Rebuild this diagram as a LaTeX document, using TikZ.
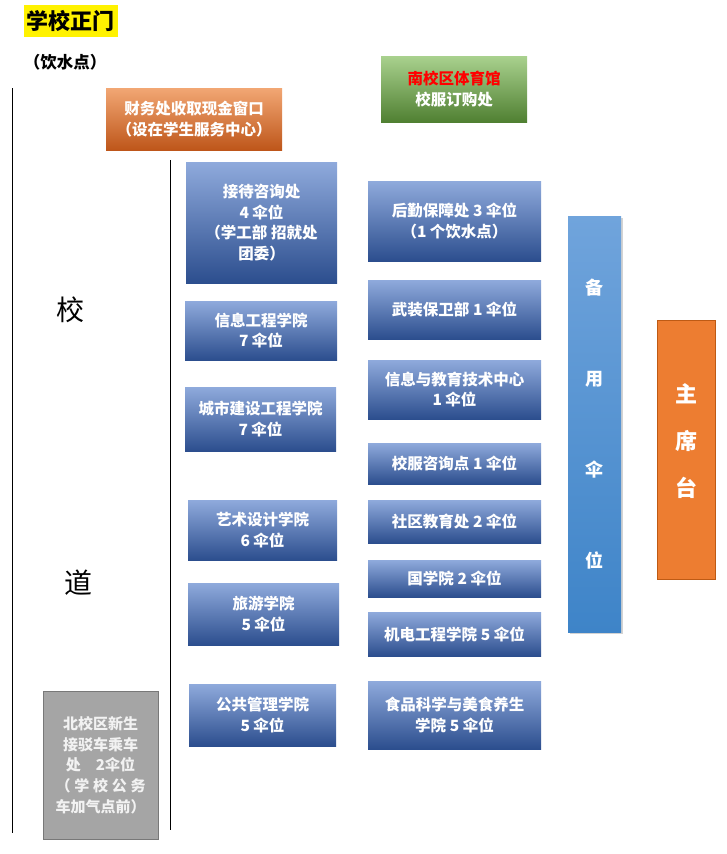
\documentclass[tikz,border=0pt]{standalone}
\usepackage{fontspec}
\setmainfont{Noto Sans CJK SC}
\usetikzlibrary{positioning, shadows}

\definecolor{bluetop}{RGB}{143,170,220}
\definecolor{bluemid}{RGB}{74,115,196}
\definecolor{bluebot}{RGB}{44,78,142}
\definecolor{orgtop}{RGB}{242,167,116}
\definecolor{orgbot}{RGB}{190,86,26}
\definecolor{grntop}{RGB}{169,209,142}
\definecolor{grnbot}{RGB}{80,128,50}
\definecolor{sparetop}{RGB}{112,164,220}
\definecolor{sparebot}{RGB}{62,132,200}
\definecolor{stagefill}{RGB}{237,125,49}
\definecolor{stageline}{RGB}{190,90,20}
\definecolor{busfill}{RGB}{165,165,165}
\definecolor{busline}{RGB}{120,120,120}

\begin{document}
\begin{tikzpicture}[
    x=1pt, y=-1pt,
    font=\fontsize{15.5}{20.7}\selectfont\bfseries,
    blk/.style={
      top color=bluetop, middle color=bluemid, bottom color=bluebot,
      text=white, align=center, inner sep=2pt
    },
    road/.style={line width=1pt, black},
    big/.style={font=\fontsize{28}{30}\selectfont}
  ]
  \useasboundingbox (0,0) rectangle (726,854);

  % gate and road
  \node[fill=yellow, inner sep=2pt, minimum width=94, minimum height=32,
        font=\fontsize{22}{24}\selectfont\bfseries] (gate) at (71,21) {学校正门};
  \node[font=\fontsize{16.5}{18}\selectfont\bfseries] (water) at (65,62) {（饮水点）};
  \draw[road] (12,88) -- (12,833);
  \draw[road] (170,160) -- (170,830);
  \node[big] (xiao) at (70,310) {校};
  \node[big] (dao)  at (78,583) {道};

  % top boxes
  \node[top color=orgtop, bottom color=orgbot, text=white, align=center,
        minimum width=176, minimum height=62] (cash) at (194,119)
        {财务处收取现金窗口\\（设在学生服务中心）};
  \node[top color=grntop, bottom color=grnbot, text=white, align=center,
        minimum width=146, minimum height=66] (gym) at (454,89)
        {\textcolor{red}{南校区体育馆}\\校服订购处};

  % left column
  \node[blk, minimum width=151, minimum height=121] (recv) at (261.5,222.5)
        {接待咨询处\\4 伞位\\（学工部\ 招就处\\团委）};
  \node[blk, minimum width=152, minimum height=59] (info) at (261,330.5)
        {信息工程学院\\7 伞位};
  \node[blk, minimum width=151, minimum height=64] (city) at (260.5,419)
        {城市建设工程学院\\7 伞位};
  \node[blk, minimum width=149, minimum height=60] (art) at (262.5,530)
        {艺术设计学院\\6 伞位};
  \node[blk, minimum width=151, minimum height=62] (tour) at (263.5,614)
        {旅游学院\\5 伞位};
  \node[blk, minimum width=147, minimum height=62] (pub) at (262.5,715)
        {公共管理学院\\5 伞位};

  % right column
  \node[blk, minimum width=173, minimum height=80] (logi) at (454.5,221)
        {后勤保障处 3 伞位\\（1 个饮水点）};
  \node[blk, minimum width=173, minimum height=59] (army) at (454.5,309.5)
        {武装保卫部 1 伞位};
  \node[blk, minimum width=173, minimum height=59] (tech) at (454.5,389.5)
        {信息与教育技术中心\\1 伞位};
  \node[blk, minimum width=173, minimum height=41] (unif) at (454.5,463.5)
        {校服咨询点 1 伞位};
  \node[blk, minimum width=173, minimum height=43] (comm) at (454.5,521.5)
        {社区教育处 2 伞位};
  \node[blk, minimum width=173, minimum height=37] (guo) at (454.5,578.5)
        {国学院 2 伞位};
  \node[blk, minimum width=173, minimum height=44] (mech) at (454.5,634)
        {机电工程学院 5 伞位};
  \node[blk, minimum width=173, minimum height=68] (food) at (454.5,715)
        {食品科学与美食养生\\学院 5 伞位};

  % spare and stage
  \node[top color=sparetop, bottom color=sparebot, text=white, align=center,
        minimum width=53, minimum height=416,
        drop shadow={opacity=0.35, shadow xshift=1.5pt, shadow yshift=-1.5pt},
        font=\fontsize{18}{91}\selectfont\bfseries] (spare) at (594.5,424)
        {备\\用\\伞\\位};
  \node[fill=stagefill, draw=stageline, line width=0.8pt,
        minimum width=58, minimum height=259,
        label={[text=white, align=center, yshift=8.5pt,
                font=\fontsize{22}{47}\selectfont\bfseries]center:{主\\席\\台}}]
        (stage) at (686,449.5) {};

  % bus stop
  \node[fill=busfill, draw=busline, line width=0.8pt, text=white!95!black, align=center,
        minimum width=115, minimum height=148, font=\fontsize{15}{20.7}\selectfont\bfseries]
        (bus) at (100.5,765)
        {北校区新生\\接驳车乘车\\处\quad 2伞位\\\hbox to 6em{（\hfil 学\hfil 校\hfil 公\hfil 务}\\车加气点前）};
\end{tikzpicture}
\end{document}
